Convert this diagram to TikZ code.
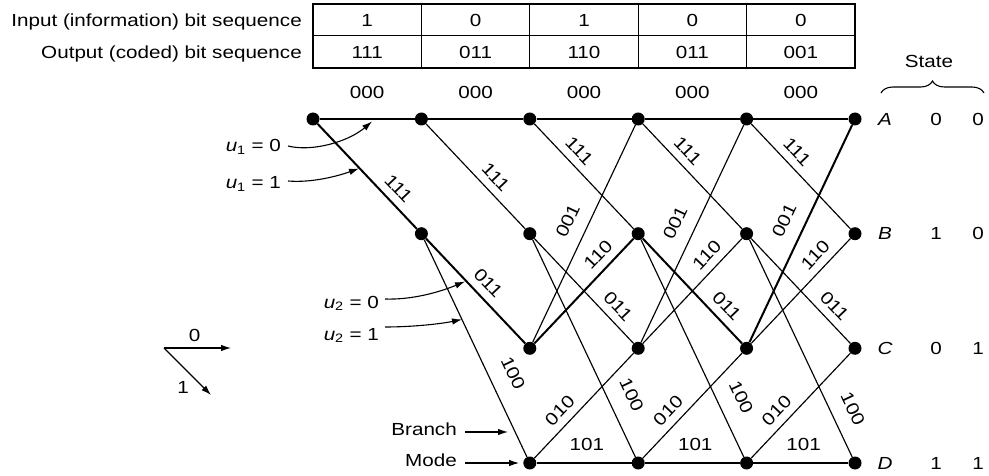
\documentclass[tikz,border=0pt]{standalone}
\usepackage{fontspec}
\setmainfont{Liberation Sans}[FakeStretch=1.18]
\usetikzlibrary{arrows.meta,decorations.pathreplacing,calc}
\begin{document}
\begin{tikzpicture}[x=1pt,y=-1pt,
  every node/.style={font=\fontsize{17.5}{21}\selectfont, inner sep=0pt},
  dot/.style={circle, fill=black, minimum size=13pt, inner sep=0pt},
  thinedge/.style={line width=1.15pt},
  thickedge/.style={line width=2pt},
  lab/.style={sloped, above=7.5pt},
  ptr/.style={line width=1.1pt, -{Latex[length=10pt,width=6.5pt]}},
  tabline/.style={line width=1.1pt},
]
\useasboundingbox (0,0) rectangle (989,476);

% ---- table ----
\draw[tabline] (313,4) rectangle (855,68);
\draw[tabline] (313,35.5) -- (855,35.5);
\foreach \x in {421.4,529.8,638.2,746.6} \draw[tabline] (\x,4) -- (\x,68);
\node[anchor=base east] (tin) at (302,26.5) {Input (information) bit sequence};
\node[anchor=base east] (tout) at (302,58.5) {Output (coded) bit sequence};
\node[anchor=base] (i1) at (367.2,26.5) {1};
\node[anchor=base] (i2) at (475.6,26.5) {0};
\node[anchor=base] (i3) at (584,26.5) {1};
\node[anchor=base] (i4) at (692.4,26.5) {0};
\node[anchor=base] (i5) at (800.8,26.5) {0};
\node[anchor=base] (o1) at (367.2,58.5) {111};
\node[anchor=base] (o2) at (475.6,58.5) {011};
\node[anchor=base] (o3) at (584,58.5) {110};
\node[anchor=base] (o4) at (692.4,58.5) {011};
\node[anchor=base] (o5) at (800.8,58.5) {001};

% ---- state column ----
\node[anchor=base] (state) at (929,67.5) {State};
\draw[line width=1.1pt, decorate, decoration={brace, amplitude=12pt}] (881,93) -- (984,93);
\node (sA) at (885,119) {\itshape A};
\node (sB) at (885,233.7) {\itshape B};
\node (sC) at (885,348.3) {\itshape C};
\node (sD) at (885,463) {\itshape D};
\node (sA1) at (936,119) {0};   \node (sA2) at (978,119) {0};
\node (sB1) at (936,233.7) {1}; \node (sB2) at (978,233.7) {0};
\node (sC1) at (936,348.3) {0}; \node (sC2) at (978,348.3) {1};
\node (sD1) at (936,463) {1};   \node (sD2) at (978,463) {1};

% ---- trellis nodes ----
\node[dot] (A0) at (313,119) {};
\foreach \k/\x in {1/421.4,2/529.8,3/638.2,4/746.6,5/855} {
  \node[dot] (A\k) at (\x,119) {};
  \node[dot] (B\k) at (\x,233.7) {};
}
\foreach \k/\x in {2/529.8,3/638.2,4/746.6,5/855} {
  \node[dot] (C\k) at (\x,348.3) {};
  \node[dot] (D\k) at (\x,463) {};
}

% ---- trellis edges ----
% A -> A
\foreach \a/\b in {0/1,1/2,2/3,3/4,4/5}
  \draw[thickedge] (A\a) -- node[pos=.5, lab, above=12pt] {000} (A\b);
% A -> B
\draw[thickedge] (A0) -- node[pos=.71, lab] {111} (B1);
\draw[thinedge] (A1) -- node[pos=.6, lab] {111} (B2);
\draw[thinedge] (A2) -- node[pos=.35, lab] {111} (B3);
\draw[thinedge] (A3) -- node[pos=.35, lab] {111} (B4);
\draw[thinedge] (A4) -- node[pos=.36, lab] {111} (B5);
% B -> C
\draw[thickedge] (B1) -- node[pos=.52, lab] {011} (C2);
\draw[thinedge] (B2) -- node[pos=.74, lab] {011} (C3);
\draw[thickedge] (B3) -- node[pos=.74, lab] {011} (C4);
\draw[thinedge] (B4) -- node[pos=.735, lab] {011} (C5);
% B -> D
\draw[thinedge] (B1) -- node[pos=.66, lab, above=9pt] {100} (D2);
\draw[thinedge] (B2) -- node[pos=.76, lab, above=9pt] {100} (D3);
\draw[thinedge] (B3) -- node[pos=.77, lab, above=9pt] {100} (D4);
\draw[thinedge] (B4) -- node[pos=.82, lab, above=7pt] {100} (D5);
% C -> A
\draw[thinedge] (C2) -- node[pos=.52, lab, above=6pt] {001} (A3);
\draw[thinedge] (C3) -- node[pos=.51, lab, above=6pt] {001} (A4);
\draw[thickedge] (C4) -- node[pos=.52, lab, above=6pt] {001} (A5);
% C -> B
\draw[thickedge] (C2) -- node[pos=.75, lab] {110} (B3);
\draw[thinedge] (C3) -- node[pos=.75, lab] {110} (B4);
\draw[thinedge] (C4) -- node[pos=.75, lab] {110} (B5);
% D -> C
\draw[thinedge] (D2) -- node[pos=.36, lab] {010} (C3);
\draw[thinedge] (D3) -- node[pos=.36, lab] {010} (C4);
\draw[thinedge] (D4) -- node[pos=.36, lab] {010} (C5);
% D -> D
\draw[thinedge] (D2) -- node[pos=.53, lab, above=4.5pt] {101} (D3);
\draw[thinedge] (D3) -- node[pos=.53, lab, above=4.5pt] {101} (D4);
\draw[thinedge] (D4) -- node[pos=.53, lab, above=4.5pt] {101} (D5);

% ---- input pointers ----
\node[anchor=base east] (u10) at (281,151.5) {\textit{u}\textsubscript{1} = 0};
\node[anchor=base east] (u11) at (281,188.5) {\textit{u}\textsubscript{1} = 1};
\node[anchor=base east] (u20) at (379,308) {\textit{u}\textsubscript{2} = 0};
\node[anchor=base east] (u21) at (379,340) {\textit{u}\textsubscript{2} = 1};
\coordinate (t10) at (372,121.5);
\coordinate (t11) at (359,168.5);
\coordinate (t20) at (465,281.5);
\coordinate (t21) at (462,319.5);
\draw[ptr] ([xshift=7pt]u10.east |- 0,146) .. controls (312,152) and (348,142) .. (t10);
\draw[ptr] ([xshift=7pt]u11.east |- 0,181) .. controls (312,183) and (338,176) .. (t11);
\draw[ptr] ([xshift=6pt]u20.east |- 0,299) .. controls (412,300) and (440,292) .. (t20);
\draw[ptr] ([xshift=6pt]u21.east |- 0,327) .. controls (412,327) and (440,324) .. (t21);

% ---- branch / mode ----
\node[anchor=base east] (branch) at (457,435) {Branch};
\node[anchor=base east] (mode) at (457,466) {Mode};
\coordinate (tbr) at (508,432);
\draw[ptr] ([xshift=8pt]branch.east |- 0,432) -- (tbr);
\draw[ptr, shorten >=4pt] ([xshift=8pt]mode.east |- 0,463) -- (D2.west);

% ---- legend ----
\coordinate (L0) at (164,348);
\coordinate (L0e) at (231,348);
\coordinate (L1e) at (211,395);
\draw[ptr] (L0) -- (L0e);
\draw[ptr] (L0) -- (L1e);
\node (l0) at (194.5,335.5) {0};
\node (l1) at (183,387) {1};
\end{tikzpicture}
\end{document}
